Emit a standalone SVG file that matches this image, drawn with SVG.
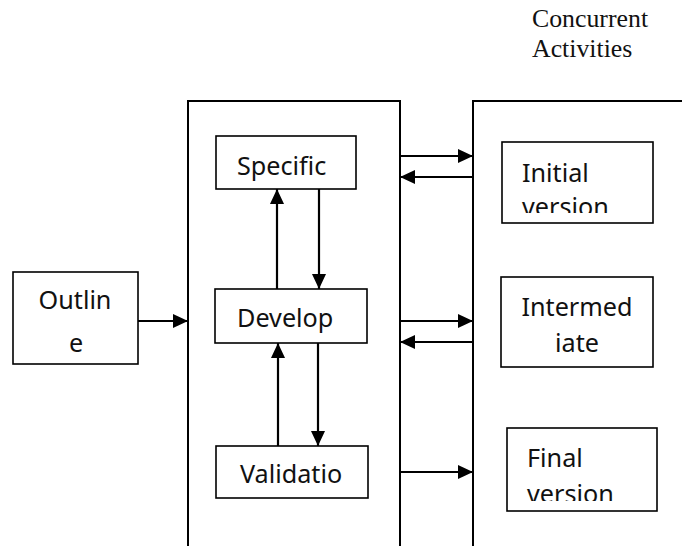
<svg xmlns="http://www.w3.org/2000/svg" width="682" height="546" viewBox="0 0 682 546">
<style>
.box{fill:#fff;stroke:#000;stroke-width:1.6}
.frame{fill:none;stroke:#000;stroke-width:2}
.lbl{font-family:"Noto Sans","Open Sans",sans-serif;font-size:25.2px;fill:#111}
.ser{font-family:"Liberation Serif","Times New Roman",serif;font-size:25.8px;fill:#111}
.ln{stroke:#000;stroke-width:2.2;fill:none}
</style>
<defs>
<marker id="ah" viewBox="0 0 15 14" refX="15" refY="7" markerWidth="15" markerHeight="14" markerUnits="userSpaceOnUse" orient="auto">
<path d="M0,0 L15,7 L0,14 Z" fill="#000"/>
</marker>
<clipPath id="cInit"><rect x="502" y="142" width="151" height="71"/></clipPath>
<clipPath id="cFinal"><rect x="507" y="428" width="150" height="73"/></clipPath>
</defs>
<g id="title"><text class="ser" x="532" y="27">Concurrent</text><text class="ser" x="532" y="57">Activities</text></g>
<g id="frames">
<path class="frame" d="M188,546 L188,101 L400,101 L400,546"/>
<path class="frame" d="M473,546 L473,101 L682,101"/>
</g>
<g id="outline"><rect class="box" x="13" y="272" width="125" height="92"/><text class="lbl" x="75" y="309" text-anchor="middle">Outlin</text><text class="lbl" x="76" y="352" text-anchor="middle">e</text></g>
<g id="specific"><rect class="box" x="216" y="136" width="140" height="53"/><text class="lbl" x="237" y="175">Specific</text></g>
<g id="develop"><rect class="box" x="215" y="289" width="152" height="54"/><text class="lbl" x="237" y="327">Develop</text></g>
<g id="validation"><rect class="box" x="216" y="446" width="152" height="52"/><text class="lbl" x="240" y="483">Validatio</text></g>
<g id="initial"><rect class="box" x="502" y="142" width="151" height="81"/><g clip-path="url(#cInit)"><text class="lbl" x="522" y="182">Initial</text><text class="lbl" x="522" y="215.5">version</text></g></g>
<g id="intermediate"><rect class="box" x="501" y="277" width="152" height="90"/><text class="lbl" x="577" y="316" text-anchor="middle">Intermed</text><text class="lbl" x="577" y="352" text-anchor="middle">iate</text></g>
<g id="final"><rect class="box" x="507" y="428" width="150" height="83"/><g clip-path="url(#cFinal)"><text class="lbl" x="527" y="467">Final</text><text class="lbl" x="527" y="502.5">version</text></g></g>
<g id="connectors">
<line class="ln" x1="138" y1="321" x2="188" y2="321" marker-end="url(#ah)"/>
<line class="ln" x1="277" y1="289" x2="277" y2="189" marker-end="url(#ah)"/>
<line class="ln" x1="319" y1="189" x2="319" y2="289" marker-end="url(#ah)"/>
<line class="ln" x1="278" y1="446" x2="278" y2="343" marker-end="url(#ah)"/>
<line class="ln" x1="318" y1="343" x2="318" y2="446" marker-end="url(#ah)"/>
<line class="ln" x1="400" y1="156" x2="473" y2="156" marker-end="url(#ah)"/>
<line class="ln" x1="473" y1="177" x2="400" y2="177" marker-end="url(#ah)"/>
<line class="ln" x1="400" y1="321" x2="473" y2="321" marker-end="url(#ah)"/>
<line class="ln" x1="473" y1="342" x2="400" y2="342" marker-end="url(#ah)"/>
<line class="ln" x1="400" y1="472" x2="473" y2="472" marker-end="url(#ah)"/>
</g>
</svg>
